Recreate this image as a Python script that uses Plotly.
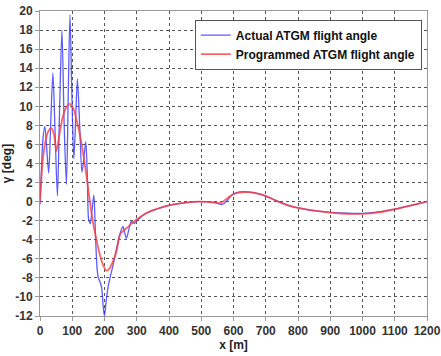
import plotly.graph_objects as go

# Actual ATGM flight angle (oscillating trajectory), x in m, gamma in deg
actual_x = [0, 4, 9, 15, 21, 27, 33, 40, 47, 54, 61, 68, 75, 82, 88, 93, 99, 105,
            111, 116, 123, 130, 136, 142, 147, 151, 156, 161, 167, 172, 177, 181,
            186, 191, 196, 200, 205, 211, 217, 225, 232, 240, 248, 257, 262, 268,
            275, 283, 292, 300, 310, 320, 340, 360, 380, 400, 430, 460, 490, 520,
            545, 565, 580, 595, 610, 630, 650, 670, 690, 710, 730, 755, 780, 805,
            850, 900, 950, 1000, 1050, 1100, 1150, 1200]
actual_y = [-0.3, 3.0, 6.5, 7.9, 5.5, 3.0, 8.0, 13.5, 7.0, 0.6, 10.0, 18.0, 8.0, 1.8,
            12.0, 19.6, 11.0, 4.5, 9.0, 12.9, 8.0, 3.1, 4.5, 6.3, 2.5, -1.9, -2.3,
            -1.0, 0.7, -3.5, -7.0, -8.0, -8.4, -9.0, -11.0, -12.0, -10.5, -9.0,
            -8.0, -6.9, -5.8, -4.5, -3.4, -2.6, -3.2, -3.85, -3.0, -2.1, -2.3, -2.0,
            -1.75, -1.4, -1.05, -0.8, -0.58, -0.4, -0.2, -0.07, 0.0, -0.02, -0.12,
            -0.3, 0.1, 0.7, 0.95, 1.05, 1.0, 0.9, 0.7, 0.45, 0.15, -0.2, -0.5, -0.68,
            -0.95, -1.12, -1.22, -1.24, -1.08, -0.78, -0.4, 0.0]

# Programmed ATGM flight angle
prog_x = [0, 5, 10, 18, 26, 35, 43, 51, 60, 70, 80, 92, 104, 115, 125, 135, 143,
          150, 158, 166, 175, 185, 195, 206, 216, 226, 237, 249, 260, 275, 290, 305,
          320, 340, 360, 380, 400, 430, 460, 490, 520, 545, 560, 575, 590, 605, 625,
          645, 665, 685, 705, 725, 750, 775, 800, 850, 900, 950, 1000, 1050, 1100,
          1150, 1200]
prog_y = [0.0, 2.8, 4.8, 6.5, 7.4, 7.7, 7.1, 5.3, 7.0, 8.8, 9.8, 10.25, 9.7, 8.3,
          6.8, 4.8, 3.0, 1.2, -0.8, -2.5, -4.0, -5.5, -6.6, -7.25, -7.0, -6.3, -5.2,
          -3.4, -3.0, -2.6, -2.1, -1.75, -1.4, -1.05, -0.8, -0.58, -0.4, -0.2, -0.07,
          0.0, -0.02, -0.1, -0.15, 0.2, 0.6, 0.85, 0.98, 1.0, 0.92, 0.75, 0.5, 0.2,
          -0.15, -0.45, -0.65, -0.95, -1.15, -1.27, -1.28, -1.12, -0.8, -0.42, 0.0]

x_ticks = list(range(0, 1201, 100))
x_labels = [str(v) for v in x_ticks]
y_ticks = list(range(-12, 21, 2))
y_labels = [str(v) for v in y_ticks]

FONT = "Liberation Sans, Arial, sans-serif"

fig = go.Figure()
fig.add_trace(go.Scatter(
    x=actual_x, y=actual_y, mode="lines", name="Actual ATGM flight angle",
    line=dict(color="rgba(50,50,255,0.8)", width=1.3, shape="spline", smoothing=0.8),
))
fig.add_trace(go.Scatter(
    x=prog_x, y=prog_y, mode="lines", name="Programmed ATGM flight angle",
    line=dict(color="rgba(255,60,60,0.8)", width=1.8, shape="spline", smoothing=0.8),
))

axis_common = dict(
    showline=True, linecolor="#9a9a9a", linewidth=1, mirror=True,
    showgrid=True, gridcolor="#555555", griddash="dot", gridwidth=1,
    ticks="outside", ticklen=4, tickcolor="#9a9a9a", tickangle=0,
    tickfont=dict(family=FONT, size=12, color="#333333", weight="bold"),
    zeroline=False, automargin=False,
)

fig.update_xaxes(range=[0, 1200], tickvals=x_ticks, ticktext=x_labels,
                 title=dict(text="x [m]", standoff=2,
                            font=dict(family=FONT, size=12, color="#222222",
                                      weight="bold")),
                 **axis_common)
fig.update_yaxes(range=[-12, 20], tickvals=y_ticks, ticktext=y_labels,
                 title=dict(text="γ [deg]", standoff=4,
                            font=dict(family=FONT, size=12, color="#222222",
                                      weight="bold")),
                 **axis_common)

fig.update_layout(
    width=441, height=356,
    margin=dict(l=40, r=14, t=11, b=40),
    paper_bgcolor="white", plot_bgcolor="white",
    legend=dict(
        x=0.40, y=0.972, xanchor="left", yanchor="top",
        bgcolor="white", bordercolor="#555555", borderwidth=1,
        font=dict(family=FONT, size=12, color="#111111", weight="bold"),
        tracegroupgap=0, itemwidth=30,
    ),
)

fig.write_html("out.html")
